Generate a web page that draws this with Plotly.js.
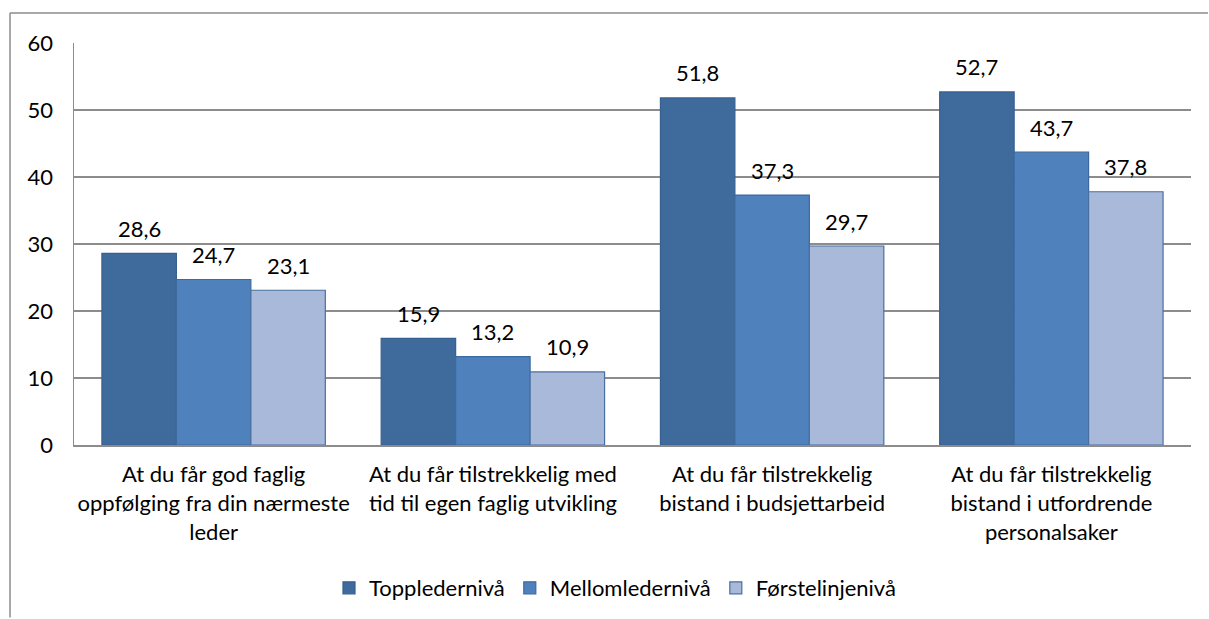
<!DOCTYPE html>
<html><head><meta charset="utf-8">
<script src="https://cdn.plot.ly/plotly-3.0.1.min.js"></script>
<style>html,body{margin:0;padding:0;background:#fff}#c{width:1209px;height:619px}</style>
</head><body><div id="c"></div>
<script>
const categories = [
  "At du får god faglig<br>oppfølging fra din nærmeste<br>leder",
  "At du får tilstrekkelig med<br>tid til egen faglig utvikling",
  "At du får tilstrekkelig<br>bistand i budsjettarbeid",
  "At du får tilstrekkelig<br>bistand i utfordrende<br>personalsaker"
];
const seriesNames = ["Toppledernivå", "Mellomledernivå", "Førstelinjenivå"];
const topp = [28.6, 15.9, 51.8, 52.7];
const mellom = [24.7, 13.2, 37.3, 43.7];
const forste = [23.1, 10.9, 29.7, 37.8];
const yTicks = [0, 10, 20, 30, 40, 50, 60];

const colors = ["#3F6A9C", "#4F81BD", "#A9B9D9"];
const lineColors = ["#36608F", "#3D6A9E", "#4A6FA0"];
const font = "Lato, 'Open Sans', sans-serif";
const allSeries = [topp, mellom, forste];
const bargap = 0.2;
const barW = (1 - bargap) / allSeries.length;

const traces = allSeries.map((vals, i) => ({
  type: "bar",
  name: seriesNames[i],
  x: categories.map((_, k) => k),
  y: vals,
  marker: {color: colors[i], line: {color: lineColors[i], width: 1.2}},
  hoverinfo: "none"
}));

const annotations = [];
allSeries.forEach((vals, i) => {
  vals.forEach((v, k) => {
    annotations.push({
      xref: "x", yref: "y", x: k + (i - 1) * barW, y: v,
      text: v.toFixed(1).replace(".", ","), showarrow: false,
      yanchor: "middle", yshift: 25,
      font: {family: font, size: 22, color: "#000"}
    });
  });
});

const L = 74, R = 1191, T = 43, B = 446, W = 1209, H = 619;
const px = v => (v - L) / (R - L);
const py = v => (B - v) / (B - T);

const layout = {
  width: W, height: H,
  margin: {l: L, r: W - R, t: T, b: H - B},
  paper_bgcolor: "#fff", plot_bgcolor: "#fff",
  barmode: "group", bargap: bargap, bargroupgap: 0,
  separators: ", ",
  font: {family: font, size: 22, color: "#000"},
  showlegend: true,
  legend: {orientation: "h", x: px(615), xanchor: "center", y: py(588), yanchor: "middle",
           font: {family: font, size: 22}, traceorder: "normal", itemwidth: 30},
  xaxis: {range: [-0.5, categories.length - 0.5], tickvals: categories.map((_, k) => k), ticktext: categories,
          showline: true, linecolor: "#8C8C8C", linewidth: 2, showgrid: false, zeroline: false,
          ticks: "", ticklabelstandoff: 9, tickfont: {family: font, size: 22}, automargin: false},
  yaxis: {range: [0, 60], tickvals: yTicks, showgrid: true, gridcolor: "#8C8C8C", gridwidth: 1.5,
          showline: true, linecolor: "#8C8C8C", linewidth: 1.5, zeroline: false,
          ticks: "", ticklabelstandoff: 15, tickfont: {family: font, size: 22}, automargin: false},
  annotations: annotations,
  shapes: [
    {type: "line", xref: "paper", yref: "paper", x0: px(10), x1: px(10), y0: py(619), y1: py(13),
     line: {color: "#8C8C8C", width: 1.5}},
    {type: "line", xref: "paper", yref: "paper", x0: px(10), x1: px(1208), y0: py(13), y1: py(13),
     line: {color: "#8C8C8C", width: 1.5}}
  ]
};
Plotly.newPlot("c", traces, layout, {displayModeBar: false, staticPlot: true});
</script></body></html>
